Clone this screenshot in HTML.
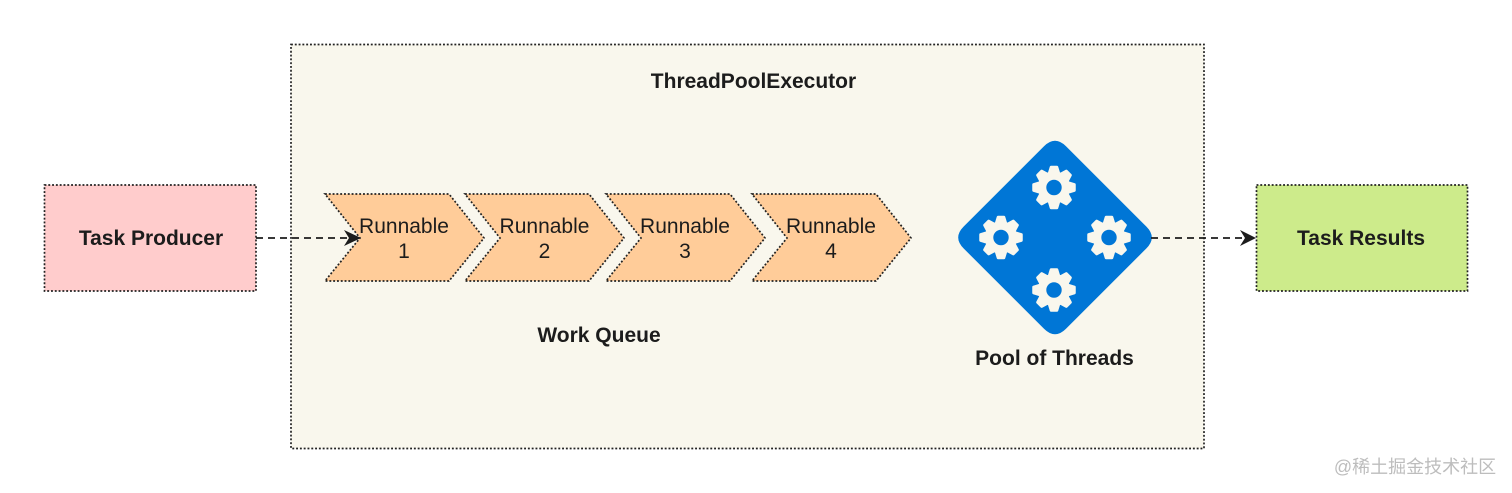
<!DOCTYPE html>
<html>
<head>
<meta charset="utf-8">
<style>
html,body{margin:0;padding:0;background:#fff;width:1512px;height:493px;overflow:hidden}
svg{display:block}
text{font-family:"Liberation Sans",Arial,sans-serif;fill:#1c1c1c;text-anchor:middle}
.b{font-weight:bold;font-size:21px}
.r{font-size:21px}
.d{stroke:#222;stroke-width:1.7;stroke-dasharray:1.9 1.9}
.l{stroke:#1c1c1c;stroke-width:1.8;stroke-dasharray:7 5;fill:none}
</style>
</head>
<body>
<svg width="1512" height="493" viewBox="0 0 1512 493" xmlns="http://www.w3.org/2000/svg">
<defs>
<polygon id="tooth" points="-5,-14 -3,-20.500 3,-20.500 5,-14" fill="#f9f7ed" stroke="#f9f7ed" stroke-width="2.500" stroke-linejoin="round"/>
<g id="gear">
<circle r="11.900" fill="none" stroke="#f9f7ed" stroke-width="8.400"/>
<use href="#tooth"/>
<use href="#tooth" transform="rotate(45)"/>
<use href="#tooth" transform="rotate(90)"/>
<use href="#tooth" transform="rotate(135)"/>
<use href="#tooth" transform="rotate(180)"/>
<use href="#tooth" transform="rotate(225)"/>
<use href="#tooth" transform="rotate(270)"/>
<use href="#tooth" transform="rotate(315)"/>
</g>
</defs>
<rect x="291" y="44.500" width="913" height="404" fill="#f9f7ed" class="d"/>
<rect x="44.500" y="185" width="211.500" height="106" fill="#ffcccc" class="d"/>
<rect x="1256.500" y="185" width="211" height="106" fill="#cdeb8b" class="d"/>
<polygon points="325,194 449,194 484,238 449,281 325,281 360,238" fill="#ffcc99" class="d"/>
<polygon points="465,194 589,194 624,238 589,281 465,281 500,238" fill="#ffcc99" class="d"/>
<polygon points="606,194 730,194 765,238 730,281 606,281 641,238" fill="#ffcc99" class="d"/>
<polygon points="752,194 876,194 911,238 876,281 752,281 787,238" fill="#ffcc99" class="d"/>
<path d="M1044 146.200 Q1055 135.200 1066 146.200 L1146.300 226.500 Q1157.300 237.500 1146.300 248.500 L1066 328.800 Q1055 339.800 1044 328.800 L963.700 248.500 Q952.700 237.500 963.700 226.500 Z" fill="#0076d6"/>
<use href="#gear" x="1054" y="187.500"/>
<use href="#gear" x="1001" y="237.500"/>
<use href="#gear" x="1109" y="237.500"/>
<use href="#gear" x="1054" y="290"/>
<path class="l" d="M256 238H350"/>
<polygon points="361,238 344,230 349,238 344,246" fill="#1c1c1c"/>
<path class="l" d="M1151 238H1246"/>
<polygon points="1256,238 1240,230 1245,238 1240,246" fill="#1c1c1c"/>
<text class="b" x="753.500" y="88">ThreadPoolExecutor</text>
<text class="b" x="151" y="245">Task Producer</text>
<text class="b" x="1361" y="245">Task Results</text>
<text class="b" x="599" y="342">Work Queue</text>
<text class="b" x="1054.500" y="365">Pool of Threads</text>
<text class="r" x="404" y="233">Runnable</text><text class="r" x="404" y="258">1</text>
<text class="r" x="544.500" y="233">Runnable</text><text class="r" x="544.500" y="258">2</text>
<text class="r" x="685" y="233">Runnable</text><text class="r" x="685" y="258">3</text>
<text class="r" x="831" y="233">Runnable</text><text class="r" x="831" y="258">4</text>
<text x="1415" y="473" style='font-family:"Liberation Sans","Noto Sans CJK SC",sans-serif;font-size:18px;fill:#bdbdbd'>@稀土掘金技术社区</text>
</svg>
</body>
</html>
